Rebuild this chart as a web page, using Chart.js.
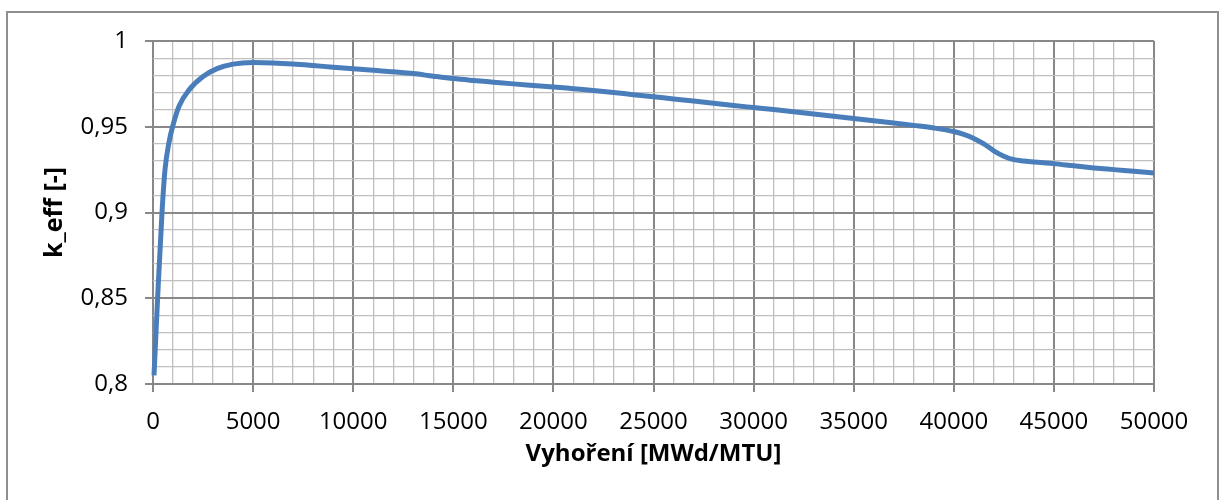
<!DOCTYPE html>
<html>
<head>
<meta charset="utf-8">
<script src="https://cdn.jsdelivr.net/npm/chart.js@4"></script>
<style>
  html, body { margin: 0; padding: 0; background: #fff; width: 1222px; height: 500px; overflow: hidden; }
  #frame { position: absolute; left: 6px; top: 11px; width: 1209px; height: 520px; border: 2px solid #8f8f8f; }
  #wrap { position: absolute; left: 0; top: 0; width: 1222px; height: 500px; }
</style>
</head>
<body>
<div id="frame"></div>
<div id="wrap"><canvas id="c" width="1222" height="500"></canvas></div>
<script>
const burnup = [50, 230, 450, 600, 800, 1000, 1300, 1800, 2500, 3200, 4000, 5000, 6000, 7000, 8000, 9000, 10000,
  11000, 12000, 13000, 14000, 15000, 16000, 17000, 18000, 19000, 20000, 21000, 22000, 23000, 24000, 25000,
  26000, 27000, 28000, 29000, 30000, 31000, 32000, 33000, 34000, 35000, 36000, 37000, 38000, 39000, 40000,
  40500, 41000, 41500, 42000, 42500, 43000, 43500, 44000, 45000, 46000, 47000, 48000, 49000, 50000];
const keff = [0.805, 0.85, 0.9, 0.925, 0.941, 0.951, 0.962, 0.9715, 0.9793, 0.9839, 0.9865, 0.9874, 0.9872, 0.9866, 0.9857, 0.9847, 0.9838,
  0.9829, 0.9821, 0.9810, 0.9795, 0.9781, 0.9770, 0.9760, 0.9750, 0.9741, 0.9732, 0.9722, 0.9712, 0.9700, 0.9687, 0.9675,
  0.9662, 0.9650, 0.9637, 0.9624, 0.9612, 0.9600, 0.9587, 0.9574, 0.9561, 0.9548, 0.9535, 0.9522, 0.9508, 0.9493, 0.9472,
  0.9455, 0.9432, 0.9400, 0.9360, 0.9328, 0.9308, 0.9300, 0.9294, 0.9285, 0.9272, 0.9260, 0.9250, 0.9240, 0.9230];

const xMajorTicks = [0, 5000, 10000, 15000, 20000, 25000, 30000, 35000, 40000, 45000, 50000];
const xTickLabels = ['0', '5000', '10000', '15000', '20000', '25000', '30000', '35000', '40000', '45000', '50000'];
const xMinorStep = 1000;
const yMajorTicks = [0.8, 0.85, 0.9, 0.95, 1];
const yTickLabels = ['0,8', '0,85', '0,9', '0,95', '1'];
const yMinorStep = 0.01;

const xTitle = 'Vyhoření [MWd/MTU]';
const yTitle = 'k_eff [-]';

const FONT = "'Open Sans', 'Liberation Sans', sans-serif";
const MAJOR = '#888888', MINOR = '#c0c0c0';

function isMajor(list, v) { return list.some(m => Math.abs(m - v) < 1e-6); }
function labelFor(list, labels, v) {
  for (let i = 0; i < list.length; i++) if (Math.abs(list[i] - v) < 1e-6) return labels[i];
  return '';
}

new Chart(document.getElementById('c'), {
  type: 'line',
  data: {
    datasets: [{
      data: burnup.map((b, i) => ({ x: b, y: keff[i] })),
      borderColor: '#4a7ebb',
      borderWidth: 5,
      pointRadius: 0,
      fill: false,
      cubicInterpolationMode: 'monotone',
      borderCapStyle: 'butt',
      clip: 4
    }]
  },
  options: {
    responsive: false,
    animation: false,
    events: [],
    layout: { padding: { left: 0, right: 68, top: 41, bottom: 0 } },
    plugins: { legend: { display: false }, tooltip: { enabled: false } },
    scales: {
      x: {
        type: 'linear',
        min: 0, max: 50000,
        afterBuildTicks: s => {
          const t = [];
          for (let v = 0; v <= 50000; v += xMinorStep) t.push({ value: v });
          s.ticks = t;
        },
        afterFit: s => { s.height = 116; },
        ticks: {
          autoSkip: false, maxRotation: 0, minRotation: 0,
          padding: 16,
          color: '#000',
          font: { family: FONT, size: 24 },
          callback: v => labelFor(xMajorTicks, xTickLabels, v)
        },
        grid: {
          drawOnChartArea: true,
          tickLength: 8,
          color: c => isMajor(xMajorTicks, c.tick.value) ? MAJOR : MINOR,
          lineWidth: c => isMajor(xMajorTicks, c.tick.value) ? 2 : 1.3,
          tickColor: c => isMajor(xMajorTicks, c.tick.value) ? MAJOR : 'rgba(0,0,0,0)',
          tickWidth: 2
        },
        border: { display: false },
        title: {
          display: true, text: xTitle, color: '#000',
          font: { family: FONT, size: 24, weight: 'bold' },
          padding: { top: 0, bottom: 31 }
        }
      },
      y: {
        type: 'linear',
        min: 0.8, max: 1,
        afterBuildTicks: s => {
          const t = [];
          for (let i = 0; i <= 20; i++) t.push({ value: Math.round((0.8 + i * yMinorStep) * 1000) / 1000 });
          s.ticks = t;
        },
        afterFit: s => { s.width = 153; },
        ticks: {
          autoSkip: false,
          padding: 17,
          color: '#000',
          font: { family: FONT, size: 24 },
          callback: v => labelFor(yMajorTicks, yTickLabels, v)
        },
        grid: {
          drawOnChartArea: true,
          tickLength: 8,
          color: c => isMajor(yMajorTicks, c.tick.value) ? MAJOR : MINOR,
          lineWidth: c => isMajor(yMajorTicks, c.tick.value) ? 2 : 1.3,
          tickColor: c => isMajor(yMajorTicks, c.tick.value) ? MAJOR : 'rgba(0,0,0,0)',
          tickWidth: 2
        },
        border: { display: false },
        title: {
          display: true, text: yTitle, color: '#000',
          font: { family: FONT, size: 25, weight: 'bold' },
          padding: { top: 40, bottom: 0 }
        }
      }
    }
  }
});
</script>
</body>
</html>
